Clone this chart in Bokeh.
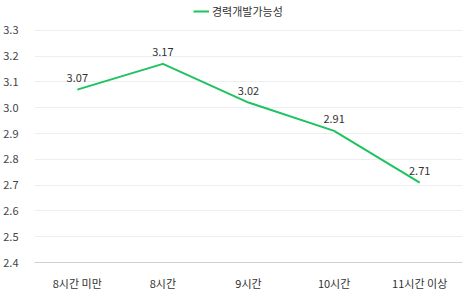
from bokeh.plotting import figure
from bokeh.models import ColumnDataSource, FactorRange, Range1d, Legend, LegendItem, FixedTicker, NumeralTickFormatter, LabelSet
from bokeh.core.properties import value
from bokeh.embed import file_html
from bokeh.resources import INLINE

categories = ["8시간 미만", "8시간", "9시간", "10시간", "11시간 이상"]
values = [3.07, 3.17, 3.02, 2.91, 2.71]
labels = ["3.07", "3.17", "3.02", "2.91", "2.71"]
y_ticks = [2.4, 2.5, 2.6, 2.7, 2.8, 2.9, 3.0, 3.1, 3.2, 3.3]
series_name = "경력개발가능성"

FONT = "Noto Sans CJK KR"
GREEN = "#1dc35f"

src = ColumnDataSource(dict(x=categories, y=values, t=labels))

p = figure(width=470, height=293, x_range=FactorRange(*categories), y_range=Range1d(2.4, 3.4),
           output_backend="svg", toolbar_location=None,
           min_border_left=34, min_border_right=8, min_border_top=4, min_border_bottom=28)
p.outline_line_color = None
r = p.line("x", "y", source=src, line_color=GREEN, line_width=2)

p.add_layout(LabelSet(x="x", y="y", text="t", source=src, y_offset=8, text_align="center",
                      text_font=value(FONT), text_font_size="11px", text_color="#333333"))

p.yaxis.ticker = FixedTicker(ticks=y_ticks)
p.yaxis.formatter = NumeralTickFormatter(format="0.0")
p.yaxis.axis_line_color = None
p.yaxis.major_tick_line_color = None
p.yaxis.minor_tick_line_color = None
p.yaxis.major_label_text_font = FONT
p.yaxis.major_label_text_font_size = "11px"
p.yaxis.major_label_text_color = "#444444"
p.yaxis.major_label_standoff = 10

p.xaxis.axis_line_color = "#d0d0d0"
p.xaxis.major_tick_line_color = None
p.xaxis.minor_tick_line_color = None
p.xaxis.major_label_text_font = FONT
p.xaxis.major_label_text_font_size = "11px"
p.xaxis.major_label_text_color = "#333333"
p.xaxis.major_label_standoff = 6

p.xgrid.grid_line_color = None
p.ygrid.grid_line_color = "#eeeeee"

legend = Legend(items=[LegendItem(label=series_name, renderers=[r])], orientation="horizontal",
                location=(159, 243), label_text_font=FONT, label_text_font_size="11px",
                label_text_color="#333333", border_line_color=None, background_fill_alpha=0,
                glyph_width=16, glyph_height=12, label_height=12, label_standoff=3, padding=2, margin=0, spacing=0)
p.add_layout(legend, "center")

open("out.html", "w").write(file_html(p, INLINE))
